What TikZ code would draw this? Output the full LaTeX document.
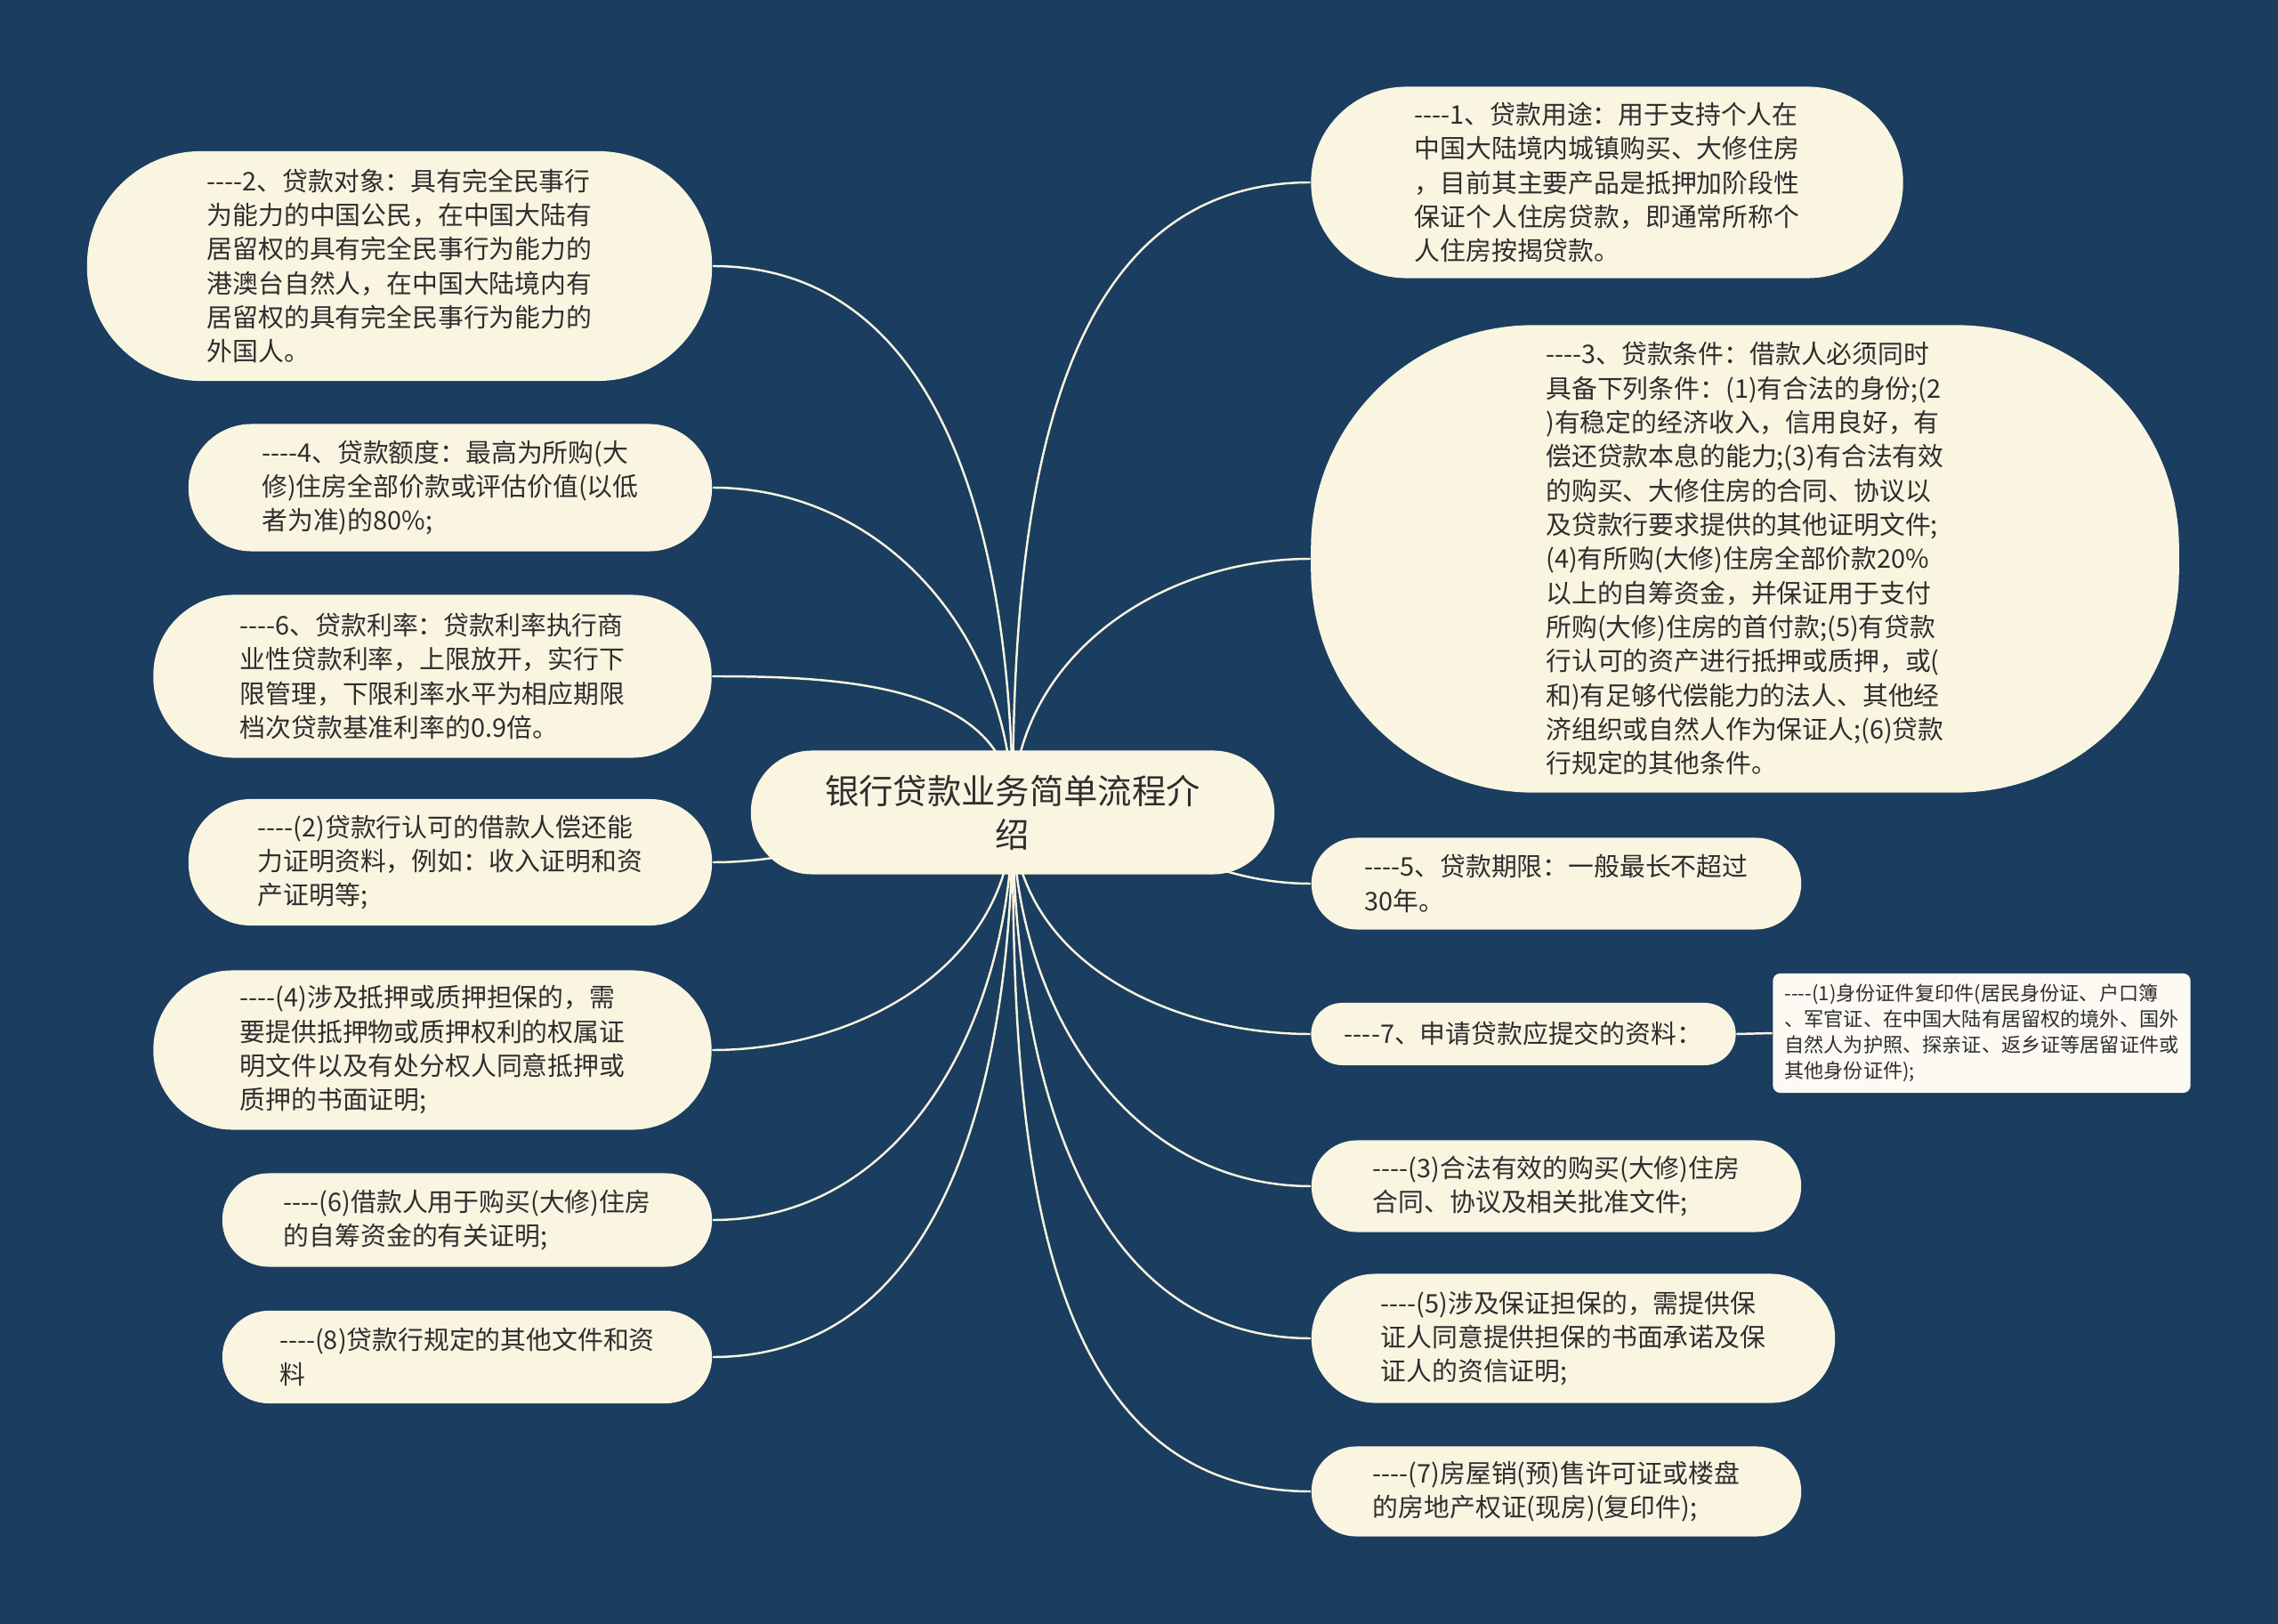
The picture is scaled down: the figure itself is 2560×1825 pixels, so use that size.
\documentclass[tikz,border=0pt]{standalone}
\usepackage{fontspec}
\setmainfont{Noto Sans CJK SC}
\definecolor{navybg}{HTML}{1B3D5F}
\definecolor{cream}{HTML}{FAF5E1}
\definecolor{paper}{HTML}{FCFAF2}
\definecolor{ink}{HTML}{2E2E2E}
\pgfdeclarelayer{backdrop}
\pgfdeclarelayer{links}
\pgfsetlayers{backdrop,links,main}
% four plain hyphens, kept apart so they do not merge into dashes
\newcommand\lead{-\kern0pt-\kern0pt-\kern0pt-}

\begin{document}
\begin{tikzpicture}[
    x=0.01cm, y=-0.01cm,
    leaf/.style={fill=cream, text=ink, align=left, inner sep=0pt,
        font={\fontsize{8.2pt}{10.9pt}\selectfont}},
    hub/.style={fill=cream, text=ink, align=center, inner sep=0pt,
        font={\fontsize{10.9pt}{14pt}\selectfont}},
    note/.style={fill=paper, text=ink, align=left, inner sep=0pt,
        rounded corners=0.08cm, font={\fontsize{6.3pt}{8.2pt}\selectfont}},
    link/.style={draw=cream, line width=0.7pt}
]

\begin{pgfonlayer}{backdrop}
\fill[navybg] (0,0) rectangle (2560,1825);
\end{pgfonlayer}

\node (hub) [hub, minimum width=5.88cm, minimum height=1.39cm, rounded corners=0.69cm] at (1138,913) {银行贷款业务简单流程介\\绍};

% left side
\node (loanwho)  [leaf, minimum width=7.02cm, minimum height=2.58cm, rounded corners=1.28cm] at (449,299) {\lead 2、贷款对象：具有完全民事行\\为能力的中国公民，在中国大陆有\\居留权的具有完全民事行为能力的\\港澳台自然人，在中国大陆境内有\\居留权的具有完全民事行为能力的\\外国人。};
\node (loanamt)  [leaf, minimum width=5.88cm, minimum height=1.43cm, rounded corners=0.71cm] at (506,548) {\lead 4、贷款额度：最高为所购(大\\修)住房全部价款或评估价值(以低\\者为准)的80\%;};
\node (loanrate) [leaf, minimum width=6.27cm, minimum height=1.83cm, rounded corners=0.9cm] at (486,760) {\lead 6、贷款利率：贷款利率执行商\\业性贷款利率，上限放开，实行下\\限管理，下限利率水平为相应期限\\档次贷款基准利率的0.9倍。};
\node (income)   [leaf, minimum width=5.88cm, minimum height=1.42cm, rounded corners=0.7cm] at (506,969) {\lead(2)贷款行认可的借款人偿还能\\力证明资料，例如：收入证明和资\\产证明等;};
\node (pledge)   [leaf, minimum width=6.27cm, minimum height=1.79cm, rounded corners=0.89cm] at (486,1180) {\lead(4)涉及抵押或质押担保的，需\\要提供抵押物或质押权利的权属证\\明文件以及有处分权人同意抵押或\\质押的书面证明;};
\node (fund)     [leaf, minimum width=5.5cm, minimum height=1.05cm, rounded corners=0.52cm] at (525,1371) {\lead(6)借款人用于购买(大修)住房\\的自筹资金的有关证明;};
\node (other)    [leaf, minimum width=5.5cm, minimum height=1.04cm, rounded corners=0.52cm] at (525,1525) {\lead(8)贷款行规定的其他文件和资\\料};

% right side
\node (loanuse)   [leaf, minimum width=6.65cm, minimum height=2.15cm, rounded corners=1.07cm] at (1806,205) {\lead 1、贷款用途：用于支持个人在\\中国大陆境内城镇购买、大修住房\\，目前其主要产品是抵押加阶段性\\保证个人住房贷款，即通常所称个\\人住房按揭贷款。};
\node (loancond)  [leaf, minimum width=9.75cm, minimum height=5.25cm, rounded corners=2.5cm] at (1961,628) {\lead 3、贷款条件：借款人必须同时\\具备下列条件：(1)有合法的身份;(2\\)有稳定的经济收入，信用良好，有\\偿还贷款本息的能力;(3)有合法有效\\的购买、大修住房的合同、协议以\\及贷款行要求提供的其他证明文件;\\(4)有所购(大修)住房全部价款20\%\\以上的自筹资金，并保证用于支付\\所购(大修)住房的首付款;(5)有贷款\\行认可的资产进行抵押或质押，或(\\和)有足够代偿能力的法人、其他经\\济组织或自然人作为保证人;(6)贷款\\行规定的其他条件。};
\node (loanterm)  [leaf, minimum width=5.5cm, minimum height=1.03cm, rounded corners=0.51cm] at (1749,993) {\lead 5、贷款期限：一般最长不超过\\30年。};
\node (docs)      [leaf, minimum width=4.77cm, minimum height=0.7cm, rounded corners=0.35cm] at (1712,1162) {\lead 7、申请贷款应提交的资料：};
\node (idcopy)    [note, minimum width=4.69cm, minimum height=1.34cm] at (2227,1161) {\lead(1)身份证件复印件(居民身份证、户口簿\\、军官证、在中国大陆有居留权的境外、国外\\自然人为护照、探亲证、返乡证等居留证件或\\其他身份证件);};
\node (contract)  [leaf, minimum width=5.5cm, minimum height=1.03cm, rounded corners=0.51cm] at (1749,1333) {\lead(3)合法有效的购买(大修)住房\\合同、协议及相关批准文件;};
\node (guarantee) [leaf, minimum width=5.88cm, minimum height=1.45cm, rounded corners=0.72cm] at (1768,1504) {\lead(5)涉及保证担保的，需提供保\\证人同意提供担保的书面承诺及保\\证人的资信证明;};
\node (permit)    [leaf, minimum width=5.5cm, minimum height=1.01cm, rounded corners=0.5cm] at (1749,1676) {\lead(7)房屋销(预)售许可证或楼盘\\的房地产权证(现房)(复印件);};

% links
\begin{pgfonlayer}{links}
\draw[link] (hub.center) to[out=90,in=0] (loanwho.east);
\draw[link] (hub.center) to[out=90,in=0] (loanamt.east);
\draw[link] (hub.center) to[out=90,in=0] (loanrate.east);
\draw[link] (hub.center) to[out=180,in=0] (income.east);
\draw[link] (hub.center) to[out=-90,in=0] (pledge.east);
\draw[link] (hub.center) to[out=-90,in=0] (fund.east);
\draw[link] (hub.center) to[out=-90,in=0] (other.east);

\draw[link] (hub.center) to[out=90,in=180] (loanuse.west);
\draw[link] (hub.center) to[out=90,in=180] (loancond.west);
\draw[link] (hub.center) to[out=0,in=180] (loanterm.west);
\draw[link] (hub.center) to[out=-90,in=180] (docs.west);
\draw[link] (hub.center) to[out=-90,in=180] (contract.west);
\draw[link] (hub.center) to[out=-90,in=180] (guarantee.west);
\draw[link] (hub.center) to[out=-90,in=180] (permit.west);
\draw[link] (docs.east) -- (idcopy.west);
\end{pgfonlayer}

\end{tikzpicture}
\end{document}
